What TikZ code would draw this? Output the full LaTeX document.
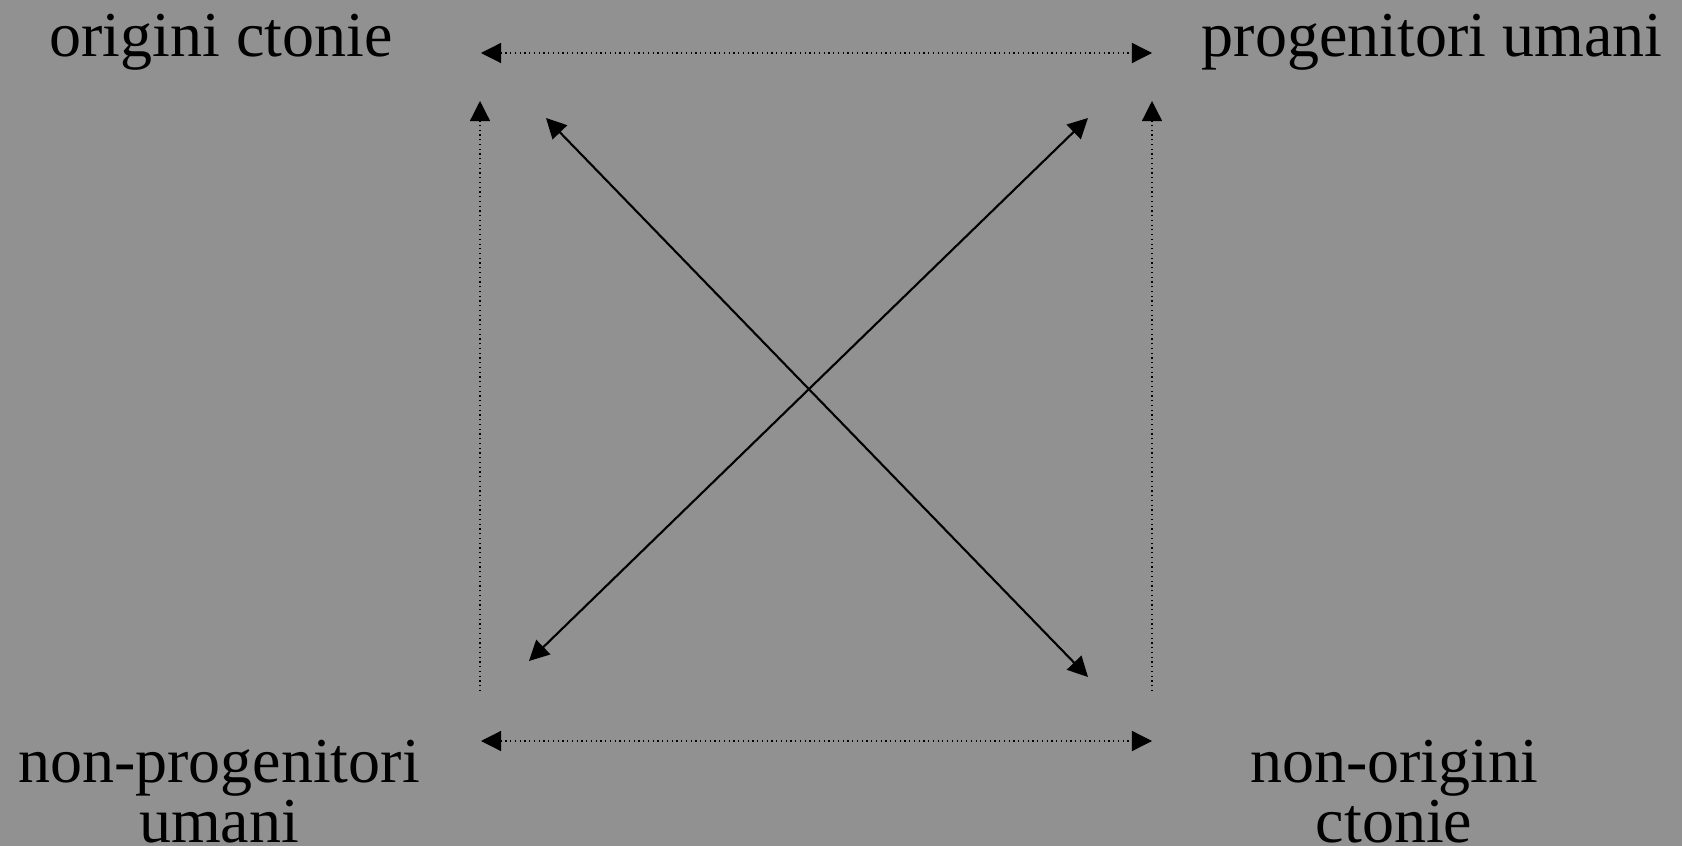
\documentclass[tikz,border=0pt]{standalone}
\usepackage{fontspec}
\setmainfont{Liberation Serif}
\usetikzlibrary{arrows.meta}
\definecolor{sfondo}{HTML}{919191}

\begin{document}
\begin{tikzpicture}[x=0.01cm, y=-0.01cm, >={Triangle[length=5.7pt, width=5.7pt]},
    etichetta/.style={font=\fontsize{18.2pt}{17pt}\selectfont, align=center, inner sep=0pt},
    punti/.style={densely dotted, line width=0.35pt},
    pieno/.style={line width=0.6pt}]
    % sfondo
    \fill[sfondo] (0,0) rectangle (1682,846);
    \useasboundingbox (0,0) rectangle (1682,846);

    % etichette
    \node[etichetta, anchor=base] (oc)  at (221,57)  {origini ctonie};
    \node[etichetta, anchor=base] (pu)  at (1432,57) {progenitori umani};
    \node[etichetta, anchor=base] (npu) at (219,842) {non-progenitori\\umani};
    \node[etichetta, anchor=base] (noc) at (1394,842) {non-origini\\ctonie};

    % estremi delle frecce
    \coordinate (alto-s)  at (481,53);
    \coordinate (alto-d)  at (1152,53);
    \coordinate (basso-s) at (481,741);
    \coordinate (basso-d) at (1152,741);
    \coordinate (vs-su)   at (480,101);
    \coordinate (vs-giu)  at (480,691);
    \coordinate (vd-su)   at (1152,101);
    \coordinate (vd-giu)  at (1152,691);
    \coordinate (d1-su)   at (546,118);
    \coordinate (d1-giu)  at (1088,677);
    \coordinate (d2-su)   at (1088,118);
    \coordinate (d2-giu)  at (529,661);

    % frecce punteggiate
    \draw[punti, <->] (alto-s) -- (alto-d);
    \draw[punti, <->] (basso-s) -- (basso-d);
    \draw[punti, ->] (vs-giu) -- (vs-su);
    \draw[punti, ->] (vd-giu) -- (vd-su);

    % diagonali
    \draw[pieno, <->] (d1-su) -- (d1-giu);
    \draw[pieno, <->] (d2-su) -- (d2-giu);
\end{tikzpicture}
\end{document}
